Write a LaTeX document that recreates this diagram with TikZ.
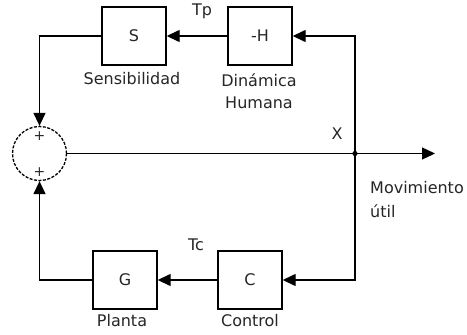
\documentclass[tikz,border=0pt]{standalone}
\usepackage{fontspec}
\setmainfont{DejaVu Sans}
\usetikzlibrary{arrows.meta}
\begin{document}
\begin{tikzpicture}[x=1pt,y=-1pt,
  every node/.style={font=\fontsize{16}{20}\selectfont, text=black!85},
  blk/.style={draw, line width=1.4pt, minimum width=64pt, minimum height=58pt, inner sep=0pt},
  txt/.style={inner sep=0pt},
  arr/.style={line width=1.4pt, -{Triangle[length=13pt,width=12pt]}},
  ln/.style={line width=1.4pt}]
\useasboundingbox (0,0) rectangle (467,335);
\fill[white] (0,0) rectangle (467,335);
% blocks
\node[blk] (S) at (134,36) {S};
\node[blk] (H) at (260,36) {-H};
\node[blk] (G) at (125,280) {G};
\node[blk] (C) at (250,280) {C};
\node[draw, circle, line width=1.3pt, dash pattern=on 3pt off 1.5pt, minimum size=54pt, inner sep=0pt] (sum) at (39.5,153.5) {};
\node[txt, font=\fontsize{14}{14}\selectfont] (p1) at (39.5,136) {+};
\node[txt, font=\fontsize{14}{14}\selectfont] (p2) at (39.5,172) {+};
% junction and output
\coordinate (x) at (355,153.5);
\coordinate (out) at (435,153.5);
% labels
\node[txt] (lS) at (132,79) {Sensibilidad};
\node[txt] (lH1) at (259,80) {Dinámica};
\node[txt] (lH2) at (259,103) {Humana};
\node[txt] (lG) at (122,321) {Planta};
\node[txt] (lC) at (250,321) {Control};
\node[txt] (Tp) at (202,11) {Tp};
\node[txt] (Tc) at (196,245) {Tc};
\node[txt] (X) at (337,134) {X};
\node[txt, anchor=west] (m1) at (370,188) {Movimiento};
\node[txt, anchor=west] (m2) at (370,211) {útil};
% connectors
\draw[arr] (sum.east) -- (out);
\draw[arr] (x) |- (H.east);
\draw[arr] (H.west) -- (S.east);
\draw[arr] (S.west) -| (sum.north);
\draw[arr] (x) |- (C.east);
\draw[arr] (C.west) -- (G.east);
\draw[arr] (G.west) -| (sum.south);
\fill (x) circle (2.6pt);
\end{tikzpicture}
\end{document}
